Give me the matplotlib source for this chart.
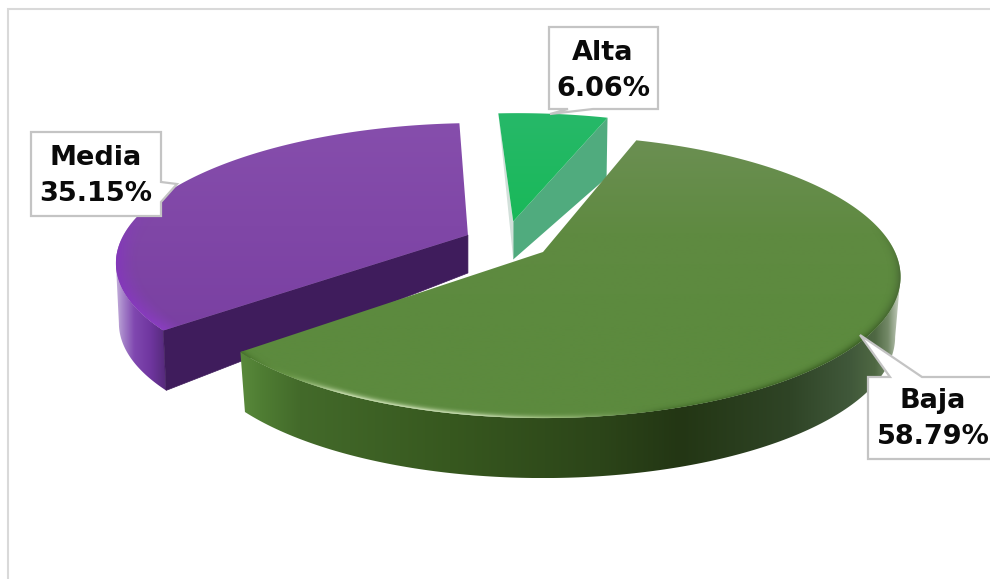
import numpy as np
import matplotlib
matplotlib.use("Agg")
import matplotlib.pyplot as plt
from matplotlib.colors import LinearSegmentedColormap, to_rgb
from matplotlib.patches import Polygon

# Data
categories = ["Alta", "Baja", "Media"]
percentages = [6.06, 58.79, 35.15]

# Pie plane -> canvas projection
CX, CY = 543, 252
RX, RY, K = 352, 137, 0.175
DEPTH_APEX, DEPTH_RIM = 38, 60
START_ANGLE = 93.8

offsets = {"Alta": (-0.088, 0.232), "Baja": (0.0, 0.0), "Media": (-0.218, 0.127)}
shrink = {"Alta": 0.985, "Baja": 0.985, "Media": 0.993}


def project(u, v):
    d = 1 + K * v
    return CX + RX * u / d, CY - RY * v / d


def arc(name, t1, t2, n=300):
    t = np.radians(np.linspace(t1, t2, n))
    u0, v0 = offsets[name]
    return project(u0 + np.cos(t), v0 + np.sin(t))


def drop(name, x, y, depth):
    return CX + (x - CX) * shrink[name], y + depth


def ramp(x, stops, colors):
    rgb = np.array([to_rgb(c) for c in colors])
    return np.column_stack([np.interp(x, stops, rgb[:, i]) for i in range(3)])


def draw_wall(ax, name, t1, t2, stops, colors, z):
    # rim wall as a horizontal gradient clipped to the front part of the band
    x, y = arc(name, t1, t2)
    if name == "Media":
        keep = np.arange(np.argmin(x), len(x))
    else:
        keep = np.arange(0, np.argmax(x) + 1)
    x, y = x[keep], y[keep]
    bx, by = drop(name, x, y, DEPTH_RIM)
    pts = np.vstack([np.column_stack([x, y]), np.column_stack([bx, by])[::-1]])
    xs = np.linspace(pts[:, 0].min(), pts[:, 0].max(), 800)
    im = ax.imshow(ramp(xs, stops, colors)[None, :, :],
                   extent=(xs[0], xs[-1], pts[:, 1].max(), pts[:, 1].min()),
                   aspect="auto", interpolation="bilinear", zorder=z)
    im.set_clip_path(Polygon(pts, transform=ax.transData))


def top_outline(name, t1, t2):
    x, y = arc(name, t1, t2)
    return np.vstack([project(*offsets[name]), np.column_stack([x, y])])


def draw_top(ax, name, t1, t2, colors, z):
    pts = top_outline(name, t1, t2)
    grad = np.linspace(0, 1, 256)[:, None]
    cmap = LinearSegmentedColormap.from_list(name, colors)
    im = ax.imshow(grad, extent=(pts[:, 0].min(), pts[:, 0].max(), pts[:, 1].max(), pts[:, 1].min()),
                   cmap=cmap, aspect="auto", interpolation="bilinear", zorder=z)
    im.set_clip_path(Polygon(pts, transform=ax.transData))


def draw_bevel(ax, name, t1, t2, stops, colors, width, power, z):
    # soft rim light on the front of the top face
    xx, yy = np.meshgrid(np.arange(0, 990) + 0.5, np.arange(0, 579) + 0.5)
    yn = (CY - yy) / RY
    v = yn / (1 - K * yn)
    u = (xx - CX) / RX * (1 + K * v)
    u0, v0 = offsets[name]
    r = np.hypot(u - u0, v - v0)
    w = np.clip((r - (1 - width)) / width, 0, 1) ** power
    front = np.clip((0.2 - (v - v0)) / 0.35, 0, 1)
    rgb = ramp(xx.ravel(), stops, colors).reshape(579, 990, 3)
    rgba = np.dstack([rgb, w * front])
    im = ax.imshow(rgba, extent=(0, 990, 579, 0), aspect="auto", interpolation="bilinear", zorder=z)
    im.set_clip_path(Polygon(top_outline(name, t1, t2), transform=ax.transData))


fig = plt.figure(figsize=(9.9, 5.79), dpi=100)
ax = fig.add_axes([0, 0, 1, 1])

# slice angles, clockwise from the start
sweep = np.array(percentages) / sum(percentages) * 360
ends = START_ANGLE - np.cumsum(sweep)
starts = ends + sweep
angles = {n: (a, b) for n, a, b in zip(categories, ends, starts)}

# Outer frame
ax.plot([8, 8, 990], [579, 9, 9], color="#d9d9d9", lw=1.5, zorder=1, solid_joinstyle="miter")

# Alta: exploded to the back
a1, a2 = angles["Alta"]
ax0, ay0 = project(*offsets["Alta"])
x1, y1 = arc("Alta", a1, a1, n=1)
x2, y2 = arc("Alta", a2, a2, n=1)
bx, by = drop("Alta", x1[0], y1[0], DEPTH_RIM)
ax.add_patch(Polygon([(x1[0], y1[0]), (bx, by), (ax0, ay0 + DEPTH_APEX), (ax0, ay0)],
                     fc="#50ab7e", ec="none", zorder=2))
ax.add_patch(Polygon([(x2[0], y2[0]), (ax0, ay0 + DEPTH_APEX), (ax0, ay0)],
                     fc="#d2e0da", ec="none", zorder=2))
draw_top(ax, "Alta", a1, a2, ["#27b969", "#19b859"], 3)

# Media: rim wall, cut face, top
m1, m2 = angles["Media"]
mx0, my0 = project(*offsets["Media"])
xc, yc = arc("Media", m2, m2, n=1)
bxc, byc = drop("Media", xc[0], yc[0], DEPTH_RIM)
draw_wall(ax, "Media", m1, m2, [116, 123, 134, 150, 165, 178],
          ["#c4b0da", "#a583c9", "#8048b0", "#6f369f", "#552a7a", "#40205c"], 4)
ax.add_patch(Polygon([(xc[0], yc[0]), (bxc, byc), (mx0, my0 + DEPTH_APEX), (mx0, my0)],
                     fc="#3f1c5c", ec="#3f1c5c", lw=0.5, zorder=5))
draw_top(ax, "Media", m1, m2, ["#864eac", "#7a40a2"], 6)
draw_bevel(ax, "Media", m1, m2, [116, 170, 300], ["#8438bb", "#8d3fc4", "#824ba8"], 0.06, 1.5, 7)

# Baja: largest slice in front
b1, b2 = angles["Baja"]
draw_wall(ax, "Baja", b1, b2,
          [240, 262, 300, 450, 600, 680, 790, 850, 875, 888, 900],
          ["#5a8a3c", "#4f7d33", "#436a2a", "#37581f", "#2c4519", "#233614",
           "#2f4426", "#40583a", "#4f6843", "#748a68", "#cdd4c7"], 8)
draw_top(ax, "Baja", b1, b2, ["#6b8f52", "#5f8a41", "#5c8a3e", "#5c8a3e"], 9)
draw_bevel(ax, "Baja", b1, b2,
           [240, 290, 340, 470, 560, 660, 760, 860, 900],
           ["#437027", "#6c9a4a", "#d5e8bc", "#d8e8c2", "#9cbd7c", "#4a7530", "#3f6627", "#3a5e24", "#4a6a36"],
           0.04, 3.0, 10)

# Value labels
tx = {"Alta": 603, "Media": 96, "Baja": 933}
ty = {"Alta": 71, "Media": 176, "Baja": 419}
boxes = {"Alta": (549, 27, 658, 109), "Media": (31, 132, 161, 216), "Baja": (868, 377, 1000, 459)}
pointers = {
    "Alta": [(568, 109), (593, 109), (550, 114)],
    "Media": [(161, 182), (161, 202), (177, 184)],
    "Baja": [(922, 377), (890, 377), (860, 335)],
}
for name, val in zip(categories, percentages):
    l, t, r, b = boxes[name]
    p = pointers[name]
    if name == "Baja":
        outline = [(l, t), (p[1][0], t), p[2], (p[0][0], t), (r, t), (r, b), (l, b)]
    elif name == "Alta":
        outline = [(l, t), (r, t), (r, b), p[1], p[2], p[0], (l, b)]
    else:
        outline = [(l, t), (r, t), p[0], p[2], p[1], (r, b), (l, b)]
    ax.add_patch(Polygon(outline, closed=True, fc="white", ec="#c4c4c4", lw=1.6, zorder=20, joinstyle="miter"))
    ax.text(tx[name], ty[name], f"{name}\n{val:.2f}%", ha="center", va="center", fontsize=19.5,
            fontweight="bold", color="#0a0a0a", linespacing=1.5, zorder=21)

ax.set_xlim(0, 990)
ax.set_ylim(579, 0)
ax.axis("off")

fig.savefig("out.png", dpi=100, facecolor="white")
